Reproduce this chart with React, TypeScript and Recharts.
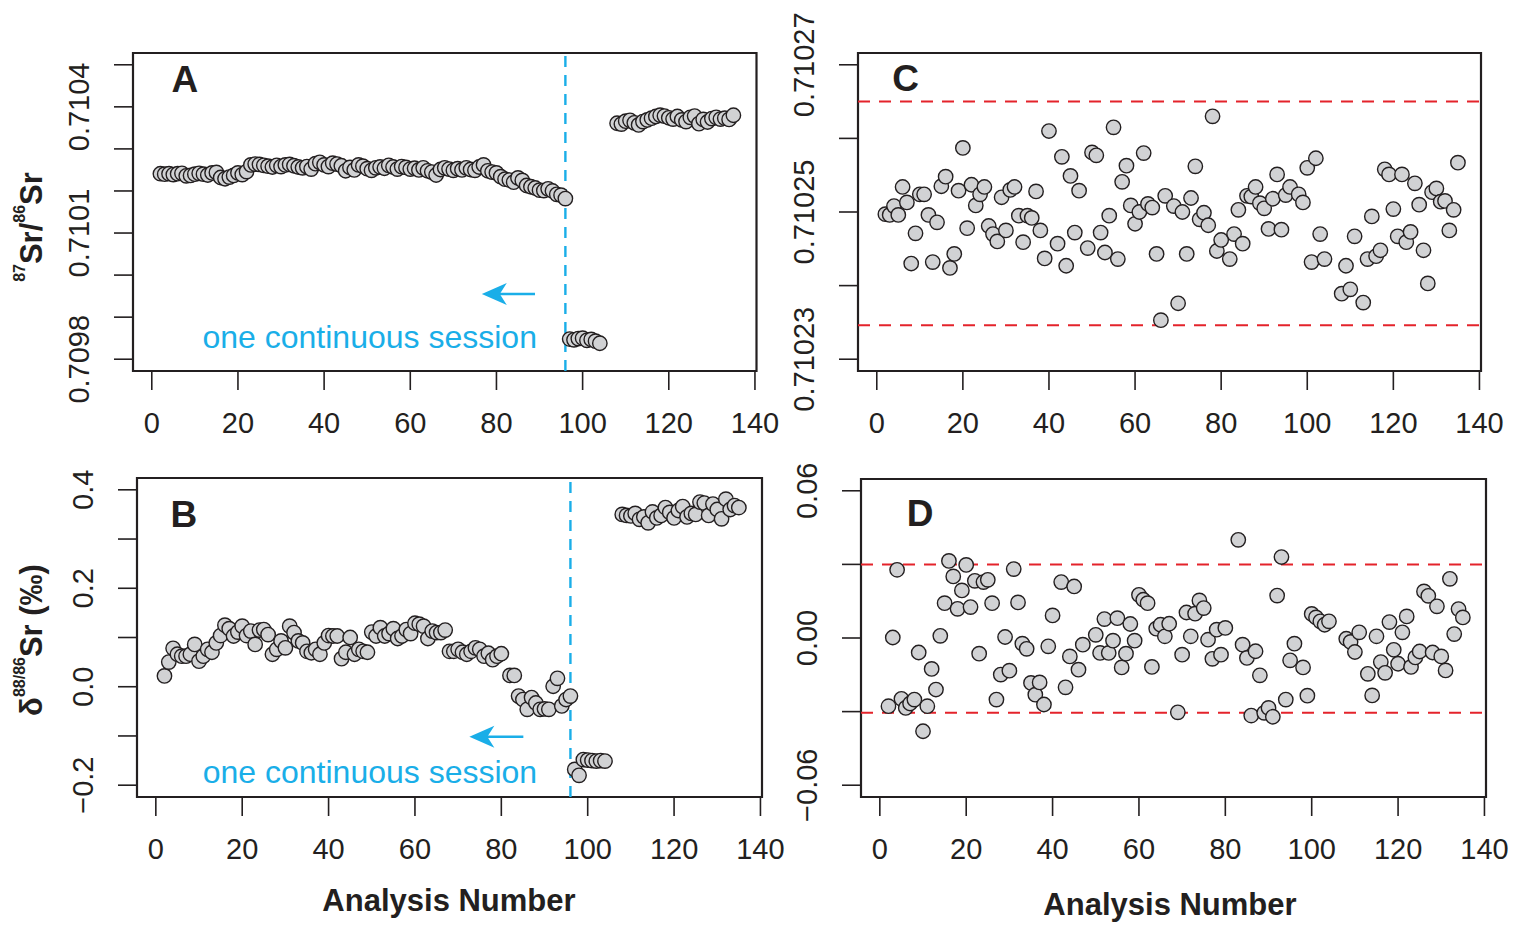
import React from "react";
import {
  ScatterChart,
  Scatter,
  XAxis,
  YAxis,
  ReferenceLine,
  ReferenceArea,
  ReferenceDot,
} from "recharts";

const W = 1530;
const H = 928;
const FONT = '"Liberation Sans", Arial, Helvetica, sans-serif';
const INK = "#231f20";
const CYAN = "#1aaee8";
const RED = "#e4232b";
const DOT_FILL = "#d1d2d4";

// analysis numbers (no runs 105-107)
const runs = [
  2, 3, 4, 5, 6, 7, 8, 9, 10, 11,
  12, 13, 14, 15, 16, 17, 18, 19, 20, 21,
  22, 23, 24, 25, 26, 27, 28, 29, 30, 31,
  32, 33, 34, 35, 36, 37, 38, 39, 40, 41,
  42, 43, 44, 45, 46, 47, 48, 49, 50, 51,
  52, 53, 54, 55, 56, 57, 58, 59, 60, 61,
  62, 63, 64, 65, 66, 67, 68, 69, 70, 71,
  72, 73, 74, 75, 76, 77, 78, 79, 80, 81,
  82, 83, 84, 85, 86, 87, 88, 89, 90, 91,
  92, 93, 94, 95, 96, 97, 98, 99, 100, 101,
  102, 103, 104,
  108, 109, 110, 111, 112, 113, 114, 115, 116, 117,
  118, 119, 120, 121, 122, 123, 124, 125, 126, 127,
  128, 129, 130, 131, 132, 133, 134, 135,
];

// A: measured 87Sr/86Sr
const srRatio: (number | null)[] = [
  0.710241, 0.71024, 0.710241, 0.710239, 0.710241, 0.710242, 0.710236, 0.710237, 0.71024, 0.710242,
  0.71024, 0.710238, 0.710243, 0.710244, 0.710232, 0.710229, 0.710233, 0.710237, 0.710243, 0.710239,
  0.710246, 0.710262, 0.710264, 0.710263, 0.710261, 0.710259, 0.710257, 0.710261, 0.710258, 0.710262,
  0.710263, 0.71026, 0.710257, 0.710255, 0.710258, 0.710252, 0.710265, 0.710268, 0.710262, 0.710258,
  0.710266, 0.710264, 0.71026, 0.710248, 0.710256, 0.71025, 0.710262, 0.710259, 0.710253, 0.710249,
  0.710255, 0.710257, 0.710254, 0.710261, 0.710257, 0.710252, 0.710258, 0.710256, 0.710252, 0.710254,
  0.71025, 0.710255, 0.710248, 0.710245, 0.710238, 0.710251, 0.710255, 0.710252, 0.710249, 0.710253,
  0.71025, 0.710255, 0.710251, 0.710249, 0.710257, 0.710262, 0.710248, 0.710245, 0.710243, 0.710234,
  0.710228, 0.710226, 0.710221, 0.710231, 0.710225, 0.710213, 0.71021, 0.710207, 0.710202, 0.710201,
  0.710205, 0.7102, 0.710192, 0.71019, 0.710182, 0.709848, 0.709846, 0.709849, 0.70985, 0.709845,
  0.709847, 0.709843, 0.709838,
  0.710361, 0.710359, 0.710366, 0.710368, 0.710362, 0.710357, 0.710365, 0.710369, 0.710373, 0.710377,
  0.71038, 0.710378, 0.710374, 0.710371, 0.710377, 0.710369, 0.710365, 0.710375, 0.710378, 0.71036,
  0.71037, 0.710364, 0.710372, 0.710375, 0.710371, 0.710373, 0.71037, 0.71038,
];

// B: measured d88/86Sr (permil)
const delta88: (number | null)[] = [
  0.022, 0.05, 0.078, 0.066, 0.062, 0.062, 0.066, 0.086, 0.052, 0.062,
  0.076, 0.07, 0.089, 0.104, 0.125, 0.118, 0.103, 0.111, 0.123, 0.104,
  0.113, 0.086, 0.115, 0.116, 0.106, 0.066, 0.076, 0.093, 0.079, 0.123,
  0.11, 0.093, 0.089, 0.072, 0.069, 0.076, 0.066, 0.089, 0.104, 0.103,
  0.103, 0.057, 0.07, 0.1, 0.066, 0.076, 0.072, 0.07, 0.111, 0.103,
  0.12, 0.103, 0.108, 0.118, 0.098, 0.103, 0.116, 0.108, 0.129, 0.127,
  0.123, 0.098, 0.113, 0.11, 0.11, 0.115, 0.072, 0.072, 0.076, 0.07,
  0.066, 0.072, 0.079, 0.076, 0.062, 0.068, 0.055, 0.062, 0.067, null,
  0.023, 0.023, -0.019, -0.026, -0.046, -0.022, -0.033, -0.046, -0.045, -0.046,
  0.001, 0.017, -0.039, -0.026, -0.019, -0.168, -0.18, -0.148, -0.149, -0.15,
  -0.151, -0.15, -0.151,
  0.35, 0.348, 0.347, 0.352, 0.34, 0.345, 0.333, 0.355, 0.343, 0.348,
  0.364, 0.354, 0.343, 0.358, 0.366, 0.345, 0.352, 0.35, 0.375, 0.373,
  0.348, 0.371, 0.36, 0.341, 0.381, 0.36, 0.368, 0.364,
];

// C: corrected 87Sr/86Sr
const srRatioCorr: (number | null)[] = [
  0.7102497, 0.7102496, 0.7102508, 0.7102496, 0.7102534, 0.7102513, 0.710243, 0.7102471, 0.7102524, 0.7102524,
  0.7102496, 0.7102432, 0.7102486, 0.7102535, 0.7102548, 0.7102424, 0.7102443, 0.7102529, 0.7102587, 0.7102478,
  0.7102537, 0.7102509, 0.7102524, 0.7102534, 0.7102481, 0.710247, 0.710246, 0.710252, 0.7102475, 0.710253,
  0.7102534, 0.7102495, 0.7102459, 0.7102495, 0.7102492, 0.7102528, 0.7102475, 0.7102437, 0.710261, null,
  0.7102457, 0.7102575, 0.7102427, 0.7102549, 0.7102472, 0.7102529, null, 0.7102451, 0.7102581, 0.7102577,
  0.7102472, 0.7102445, 0.7102495, 0.7102615, 0.7102436, 0.7102541, 0.7102563, 0.7102509, 0.7102484, 0.71025,
  0.710258, 0.7102511, 0.7102506, 0.7102443, 0.7102353, 0.7102522, null, 0.7102508, 0.7102376, 0.71025,
  0.7102443, 0.7102519, 0.7102562, 0.710249, 0.7102499, 0.7102482, 0.710263, 0.7102447, 0.7102462, null,
  0.7102436, 0.710247, 0.7102503, 0.7102457, 0.7102522, 0.7102521, 0.7102534, 0.7102512, 0.7102505, 0.7102477,
  0.7102518, 0.7102551, 0.7102476, 0.7102523, 0.7102534, null, 0.7102524, 0.7102513, 0.710256, 0.7102432,
  0.7102573, 0.710247, 0.7102436,
  0.7102389, 0.7102427, 0.7102395, 0.7102467, null, 0.7102377, 0.7102436, 0.7102494, 0.710244, 0.7102448,
  0.7102558, 0.7102551, 0.7102504, 0.7102467, 0.7102551, 0.7102459, 0.7102473, 0.7102539, 0.710251, 0.7102448,
  0.7102403, 0.7102527, 0.7102532, 0.7102514, 0.7102515, 0.7102475, 0.7102503, 0.7102567,
];

// D: corrected d88/86Sr (permil)
const delta88Corr: (number | null)[] = [
  -0.0278, 0.0002, 0.0278, -0.0248, -0.0285, -0.0267, -0.0251, -0.0059, -0.038, -0.0278,
  -0.0126, -0.021, 0.0009, 0.0142, 0.0314, 0.0251, 0.0119, 0.0194, 0.0298, 0.0126,
  0.0233, -0.0064, 0.0228, 0.0237, 0.0142, -0.0251, -0.0149, 0.0004, -0.0133, 0.0281,
  0.0145, -0.0023, -0.0044, -0.0183, -0.0231, -0.0181, -0.0271, -0.0034, 0.0092, null,
  0.0228, -0.0201, -0.0075, 0.021, -0.0129, -0.0027, null, null, 0.0013, -0.0061,
  0.0077, -0.0061, -0.0011, 0.0081, -0.012, -0.0064, 0.0057, -0.0011, 0.0176, 0.0156,
  0.0142, -0.0118, 0.0038, 0.0054, 0.0007, 0.0058, null, -0.0303, -0.0068, 0.0104,
  0.0007, 0.0099, 0.0153, 0.0122, -0.0007, -0.0085, 0.0034, -0.0068, 0.0041, null,
  null, 0.04, -0.0027, -0.0081, -0.0316, -0.0054, -0.0152, -0.0305, -0.0285, -0.0321,
  0.0173, 0.033, -0.0251, -0.0091, -0.0023, null, -0.012, -0.0235, 0.0098, 0.0084,
  0.0068, 0.0054, 0.0068,
  -0.0003, -0.0016, -0.0057, 0.0023, null, -0.0146, -0.0234, 0.0007, -0.0098, -0.0142,
  0.0065, -0.0048, -0.0105, 0.0023, 0.0088, -0.0118, -0.0079, -0.0055, 0.019, 0.0172,
  -0.0059, 0.0129, -0.0075, -0.0132, 0.0241, 0.0016, 0.0118, 0.0084,
];

const xTicks = [0, 20, 40, 60, 80, 100, 120, 140];
const xDomain: [number, number] = [-4.36, 140.36];

const ticksA = [0.7098, 0.7099, 0.71, 0.7101, 0.7102, 0.7103, 0.7104, 0.7105];
const labelsA = ["0.7098", "", "", "0.7101", "", "", "0.7104", ""];
const ticksB = [-0.2, -0.1, 0, 0.1, 0.2, 0.3, 0.4];
const labelsB = ["\u22120.2", "", "0.0", "", "0.2", "", "0.4"];
const ticksC = [0.71023, 0.71024, 0.71025, 0.71026, 0.71027];
const labelsC = ["0.71023", "", "0.71025", "", "0.71027"];
const ticksD = [-0.06, -0.03, 0, 0.03, 0.06];
const labelsD = ["\u22120.06", "", "0.00", "", "0.06"];

const sessionBreak = 96;
const limitsC = [0.710265, 0.7102346];
const limitsD = [0.03, -0.0305];

type Box = { left: number; right: number; top: number; bottom: number };

const boxA: Box = { left: 133, right: 756.5, top: 53, bottom: 371 };
const boxB: Box = { left: 137, right: 762, top: 478, bottom: 797 };
const boxC: Box = { left: 858, right: 1481, top: 53, bottom: 371 };
const boxD: Box = { left: 861, right: 1486, top: 479, bottom: 797 };

const dotShape = (p: any) => (
  <circle cx={p.cx} cy={p.cy} r={7.2} fill={DOT_FILL} stroke={INK} strokeWidth={1.4} />
);

const XTick = (p: any) => (
  <text x={p.x} y={p.y + 43} textAnchor="middle" fontSize={29} fontFamily={FONT} fill={INK}>
    {p.payload.value}
  </text>
);

function makeYTick(ticks: number[], labels: string[]) {
  return (p: any) => {
    const i = ticks.findIndex((t) => Math.abs(t - p.payload.value) < 1e-9);
    const label = i >= 0 ? labels[i] : "";
    if (!label) return <g />;
    const bx = p.x - 25;
    return (
      <text
        x={bx}
        y={p.y}
        transform={`rotate(-90, ${bx}, ${p.y})`}
        textAnchor="middle"
        fontSize={29}
        fontFamily={FONT}
        fill={INK}
      >
        {label}
      </text>
    );
  };
}

function textDot(text: string, opts: { anchor: string; size: number; bold?: boolean; color: string }) {
  return (p: any) => (
    <text
      x={p.cx}
      y={p.cy}
      textAnchor={opts.anchor}
      fontSize={opts.size}
      fontWeight={opts.bold ? "bold" : "normal"}
      fontFamily={FONT}
      fill={opts.color}
    >
      {text}
    </text>
  );
}

const arrowShape = (p: any) => {
  const { x1, y1, x2, y2 } = p;
  return (
    <g>
      <line x1={x1} y1={y1} x2={x2 + 14} y2={y2} stroke={CYAN} strokeWidth={2.6} />
      <path
        d={`M${x2},${y2} L${x2 + 25},${y2 - 11} L${x2 + 18},${y2} L${x2 + 25},${y2 + 11} Z`}
        fill={CYAN}
      />
    </g>
  );
};

interface PanelProps {
  box: Box;
  values: (number | null)[];
  yDomain: [number, number];
  yTicks: number[];
  yLabels: string[];
  children?: React.ReactNode;
}

function Panel({ box, values, yDomain, yTicks, yLabels, children }: PanelProps) {
  const points = runs
    .map((n, i) => ({ n, v: values[i] }))
    .filter((d) => d.v !== null);
  return (
    <div style={{ position: "absolute", left: 0, top: 0 }}>
      <ScatterChart
        width={W}
        height={H}
        margin={{
          top: box.top,
          right: W - box.right,
          bottom: H - box.bottom - 60,
          left: box.left - 60,
        }}
      >
        <XAxis
          dataKey="n"
          type="number"
          domain={xDomain}
          ticks={xTicks}
          interval={0}
          allowDataOverflow
          height={60}
          axisLine={false}
          tickSize={19}
          tickMargin={0}
          tickLine={{ stroke: INK, strokeWidth: 1.6 }}
          tick={XTick}
        />
        <YAxis
          dataKey="v"
          type="number"
          domain={yDomain}
          ticks={yTicks}
          interval={0}
          allowDataOverflow
          width={60}
          axisLine={false}
          tickSize={19}
          tickMargin={0}
          tickLine={{ stroke: INK, strokeWidth: 1.6 }}
          tick={makeYTick(yTicks, yLabels)}
        />
        <Scatter data={points} isAnimationActive={false} shape={dotShape} />
        {children}
        <ReferenceArea
          x1={xDomain[0]}
          x2={xDomain[1]}
          y1={yDomain[0]}
          y2={yDomain[1]}
          fill="none"
          stroke={INK}
          strokeWidth={2.2}
          ifOverflow="visible"
        />
      </ScatterChart>
    </div>
  );
}

export default function App() {
  const titleStyle = { fontFamily: FONT, fontWeight: "bold" as const, fill: INK };
  return (
    <div style={{ position: "absolute", left: 0, top: 0, width: W, height: H, background: "#fff" }}>
      <Panel box={boxA} values={srRatio} yDomain={[0.709772, 0.710528]} yTicks={ticksA} yLabels={labelsA}>
        <ReferenceLine x={sessionBreak} stroke={CYAN} strokeWidth={2.4} strokeDasharray="11 8" />
        <ReferenceLine
          segment={[{ x: 88.95, y: 0.709955 }, { x: 76.6, y: 0.709955 }]}
          shape={arrowShape}
        />
        <ReferenceDot x={89.4} y={0.709827} r={0} shape={textDot("one continuous session", { anchor: "end", size: 32, color: CYAN })} />
        <ReferenceDot x={7.7} y={0.710436} r={0} shape={textDot("A", { anchor: "middle", size: 37, bold: true, color: INK })} />
      </Panel>
      <Panel box={boxB} values={delta88} yDomain={[-0.224, 0.424]} yTicks={ticksB} yLabels={labelsB}>
        <ReferenceLine x={sessionBreak} stroke={CYAN} strokeWidth={2.4} strokeDasharray="11 8" />
        <ReferenceLine
          segment={[{ x: 85.1, y: -0.1016 }, { x: 72.6, y: -0.1016 }]}
          shape={arrowShape}
        />
        <ReferenceDot x={88.3} y={-0.196} r={0} shape={textDot("one continuous session", { anchor: "end", size: 32, color: CYAN })} />
        <ReferenceDot x={6.5} y={0.325} r={0} shape={textDot("B", { anchor: "middle", size: 37, bold: true, color: INK })} />
      </Panel>
      <Panel box={boxC} values={srRatioCorr} yDomain={[0.7102284, 0.7102716]} yTicks={ticksC} yLabels={labelsC}>
        {limitsC.map((y) => (
          <ReferenceLine key={y} y={y} stroke={RED} strokeWidth={2} strokeDasharray="12 9" />
        ))}
        <ReferenceDot x={6.7} y={0.7102664} r={0} shape={textDot("C", { anchor: "middle", size: 37, bold: true, color: INK })} />
      </Panel>
      <Panel box={boxD} values={delta88Corr} yDomain={[-0.0648, 0.0648]} yTicks={ticksD} yLabels={labelsD}>
        {limitsD.map((y) => (
          <ReferenceLine key={y} y={y} stroke={RED} strokeWidth={2} strokeDasharray="12 9" />
        ))}
        <ReferenceDot x={9.3} y={0.0456} r={0} shape={textDot("D", { anchor: "middle", size: 37, bold: true, color: INK })} />
      </Panel>
      <svg width={W} height={H} style={{ position: "absolute", left: 0, top: 0, pointerEvents: "none" }}>
        <text transform="rotate(-90, 42, 227)" x={42} y={227} textAnchor="middle" fontSize={31} {...titleStyle}>
          <tspan fontSize={16} dy={-17}>87</tspan>
          <tspan dy={17}>Sr/</tspan>
          <tspan fontSize={16} dy={-17}>86</tspan>
          <tspan dy={17}>Sr</tspan>
        </text>
        <text transform="rotate(-90, 42, 640)" x={42} y={640} textAnchor="middle" fontSize={31} {...titleStyle}>
          <tspan>δ</tspan>
          <tspan fontSize={16} dy={-17}>88/86</tspan>
          <tspan dy={17}>Sr (‰)</tspan>
        </text>
        <text x={449} y={911} textAnchor="middle" fontSize={31} {...titleStyle}>
          Analysis Number
        </text>
        <text x={1170} y={915} textAnchor="middle" fontSize={31} {...titleStyle}>
          Analysis Number
        </text>
      </svg>
    </div>
  );
}
